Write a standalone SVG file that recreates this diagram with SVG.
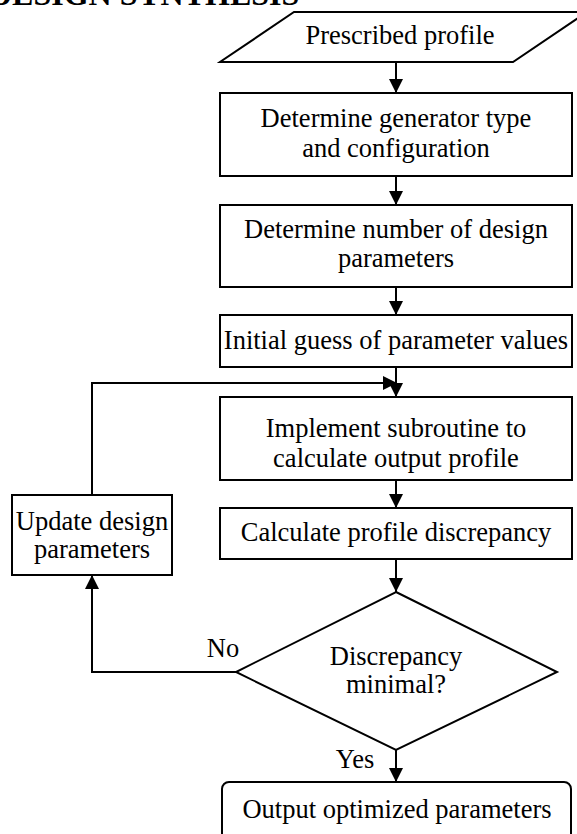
<svg xmlns="http://www.w3.org/2000/svg" width="577" height="834" viewBox="0 0 577 834">
<style>
  .shape { fill: #fff; stroke: #000; stroke-width: 2; }
  .lbl { font-family: "Liberation Serif", "Times New Roman", serif; font-size: 26.5px; fill: #000; text-anchor: middle; }
  .edge { fill: none; stroke: #000; stroke-width: 2; }
  .title { font-family: "Liberation Serif", "Times New Roman", serif; font-size: 32px; font-weight: bold; fill: #000; }
</style>
<defs>
  <marker id="arr" markerUnits="userSpaceOnUse" markerWidth="14" markerHeight="14" refX="14" refY="7" orient="auto">
    <path d="M0,0 L14,7 L0,14 z" fill="#000"/>
  </marker>
</defs>
<rect width="577" height="834" fill="#fff"/>
<text class="title" x="-11" y="5">DESIGN SYNTHESIS</text>

<g id="prescribed">
  <polygon class="shape" points="294,12 587,12 513,62 220,62"/>
  <text class="lbl" x="400" y="44">Prescribed profile</text>
</g>
<g id="generator">
  <rect class="shape" x="220" y="93" width="352" height="83"/>
  <text class="lbl" x="396" y="127">Determine generator type</text>
  <text class="lbl" x="396" y="157">and configuration</text>
</g>
<g id="numparams">
  <rect class="shape" x="220" y="205" width="352" height="82"/>
  <text class="lbl" x="396" y="238">Determine number of design</text>
  <text class="lbl" x="396" y="267">parameters</text>
</g>
<g id="initial">
  <rect class="shape" x="220" y="315" width="352" height="52"/>
  <text class="lbl" x="396" y="349">Initial guess of parameter values</text>
</g>
<g id="subroutine">
  <rect class="shape" x="220" y="397" width="352" height="83"/>
  <text class="lbl" x="396" y="437">Implement subroutine to</text>
  <text class="lbl" x="396" y="467">calculate output profile</text>
</g>
<g id="discrepancy">
  <rect class="shape" x="220" y="508" width="352" height="51"/>
  <text class="lbl" x="396" y="541">Calculate profile discrepancy</text>
</g>
<g id="decision">
  <polygon class="shape" points="396,592 557,672 396,750 236,672"/>
  <text class="lbl" x="396" y="665">Discrepancy</text>
  <text class="lbl" x="396" y="693">minimal?</text>
</g>
<g id="update">
  <rect class="shape" x="12" y="495" width="160" height="80"/>
  <text class="lbl" x="92" y="530">Update design</text>
  <text class="lbl" x="92" y="558">parameters</text>
</g>
<g id="output">
  <rect class="shape" x="222" y="782" width="349" height="70" rx="7" ry="7"/>
  <text class="lbl" x="397" y="818">Output optimized parameters</text>
</g>

<g id="connectors">
  <path class="edge" d="M396,62 L396,93" marker-end="url(#arr)"/>
  <path class="edge" d="M396,176 L396,205" marker-end="url(#arr)"/>
  <path class="edge" d="M396,287 L396,315" marker-end="url(#arr)"/>
  <path class="edge" d="M396,367 L396,397" marker-end="url(#arr)"/>
  <path class="edge" d="M92,495 L92,383 L397,383" marker-end="url(#arr)"/>
  <path class="edge" d="M396,480 L396,508" marker-end="url(#arr)"/>
  <path class="edge" d="M396,559 L396,592" marker-end="url(#arr)"/>
  <path class="edge" d="M236,672 L92,672 L92,575" marker-end="url(#arr)"/>
  <path class="edge" d="M396,750 L396,782" marker-end="url(#arr)"/>
  <text class="lbl" x="223" y="657">No</text>
  <text class="lbl" x="355" y="768">Yes</text>
</g>
</svg>
